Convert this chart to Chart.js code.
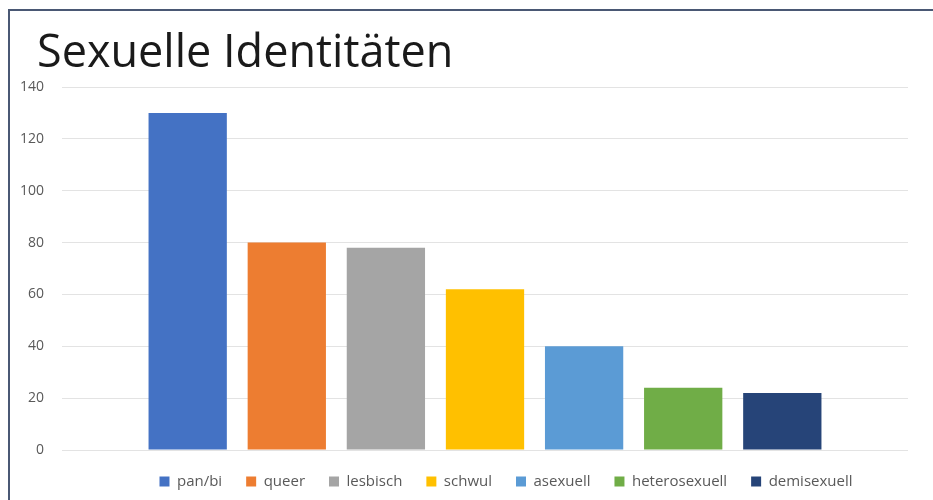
<!DOCTYPE html>
<html><head><meta charset="utf-8">
<script src="https://cdn.jsdelivr.net/npm/chart.js@4/dist/chart.umd.min.js"></script>
<style>
html,body{margin:0;padding:0;background:#fff;}
#wrap{position:relative;width:933px;height:500px;overflow:hidden;}
#frame{position:absolute;left:8px;top:9px;width:940px;height:510px;border-top:2px solid #4a5874;border-left:2px solid #4a5874;box-sizing:border-box;pointer-events:none;}
canvas{position:absolute;left:0;top:0;}
</style></head>
<body><div id="wrap"><canvas id="c" width="933" height="500"></canvas><div id="frame"></div></div>
<script>
const titleText = "Sexuelle Identitäten";
const categories = ["pan/bi","queer","lesbisch","schwul","asexuell","heterosexuell","demisexuell"];
const values = [130, 80, 78, 62, 40, 24, 22];
const colors = ["#4472C4","#ED7D31","#A5A5A5","#FFC000","#5B9BD5","#70AD47","#264478"];
const yTicks = [0,20,40,60,80,100,120,140];

const datasets = categories.map((name,i)=>({
  label:name, data:[values[i]], backgroundColor:colors[i], borderWidth:0,
  categoryPercentage:0.82, barPercentage:0.79
}));

const shiftBoxes = {
  id:'shiftBoxes',
  afterLayout(chart){
    const lg = chart.legend;
    if(lg){ lg.left += 52; lg.right += 52; }
    const tb = chart.titleBlock;
    if(tb){ tb.left += 37; tb.right += 37; }
  }
};

new Chart(document.getElementById('c'),{
  type:'bar',
  data:{labels:[''],datasets},
  plugins:[shiftBoxes],
  options:{
    responsive:false, animation:false,
    layout:{padding:{left:0,right:25,top:17,bottom:1}},
    plugins:{
      title:{display:true,text:titleText,align:'start',color:'#1a1a1a',
        font:{family:'"Open Sans"',size:45,weight:'400'},padding:{top:10,bottom:6}},
      legend:{position:'bottom',labels:{boxWidth:10,boxHeight:10,padding:24,color:'#595959',
        font:{family:'"Open Sans"',size:15}}},
      tooltip:{enabled:false}
    },
    scales:{
      x:{display:false},
      y:{min:0,max:140,
        afterFit:s=>{s.width=62;},
        afterBuildTicks:s=>{s.ticks=yTicks.map(v=>({value:v}));},
        ticks:{color:'#595959',padding:18,font:{family:'"Open Sans"',size:14}},
        grid:{color:'#e3e3e3',drawTicks:false},
        border:{display:false}
      }
    }
  }
});
</script></body></html>
